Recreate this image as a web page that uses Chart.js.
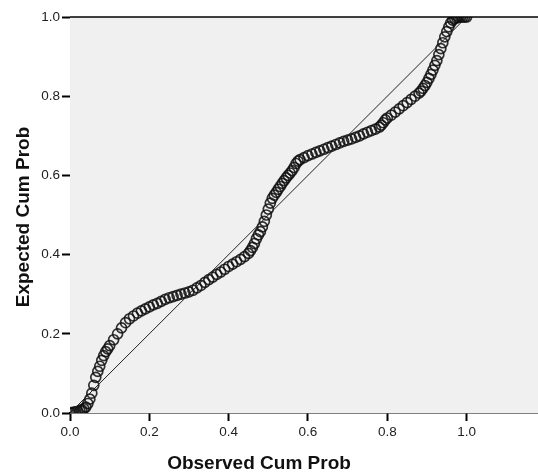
<!DOCTYPE html>
<html>
<head>
<meta charset="utf-8">
<script src="https://cdn.jsdelivr.net/npm/chart.js@4"></script>
<style>
  html, body { margin: 0; padding: 0; background: #fff; }
  #wrap { width: 538px; height: 474px; position: relative; }
</style>
</head>
<body>
<div id="wrap"><canvas id="ppPlot"></canvas></div>
<script>
// observed cumulative probability (x) and expected cumulative probability (y)
const observed = [
  0.000, 0.005, 0.010, 0.015, 0.020, 0.025, 0.030, 0.035, 0.040, 0.045,
  0.050, 0.055, 0.060, 0.065, 0.070, 0.075, 0.080, 0.085, 0.090, 0.095,
  0.100, 0.110, 0.120, 0.130, 0.140, 0.150, 0.160, 0.170, 0.180, 0.190,
  0.200, 0.210, 0.220, 0.230, 0.240, 0.250, 0.260, 0.270, 0.280, 0.290,
  0.300, 0.310, 0.320, 0.330, 0.340, 0.350, 0.360, 0.370, 0.380, 0.390,
  0.400, 0.410, 0.420, 0.430, 0.440, 0.450, 0.455, 0.460, 0.465, 0.470,
  0.475, 0.480, 0.485, 0.490, 0.495, 0.500, 0.505, 0.510, 0.515, 0.520,
  0.525, 0.530, 0.535, 0.540, 0.545, 0.550, 0.555, 0.560, 0.565, 0.570,
  0.575, 0.580, 0.590, 0.600, 0.610, 0.620, 0.630, 0.640, 0.650, 0.660,
  0.670, 0.680, 0.690, 0.700, 0.710, 0.720, 0.730, 0.740, 0.750, 0.760,
  0.770, 0.780, 0.785, 0.790, 0.795, 0.800, 0.810, 0.820, 0.830, 0.840,
  0.850, 0.860, 0.870, 0.880, 0.885, 0.890, 0.895, 0.900, 0.905, 0.910,
  0.915, 0.920, 0.925, 0.930, 0.935, 0.940, 0.945, 0.950, 0.955, 0.960,
  0.965, 0.970, 0.975, 0.980, 0.985, 0.990, 0.995, 1.000
];
const expected = [
  0.000, 0.001, 0.002, 0.003, 0.004, 0.006, 0.008, 0.011, 0.015, 0.024,
  0.035, 0.050, 0.070, 0.090, 0.105, 0.118, 0.133, 0.145, 0.155, 0.162,
  0.170, 0.185, 0.200, 0.215, 0.228, 0.238, 0.245, 0.252, 0.258, 0.263,
  0.268, 0.273, 0.277, 0.282, 0.287, 0.291, 0.294, 0.297, 0.300, 0.303,
  0.306, 0.310, 0.316, 0.322, 0.330, 0.337, 0.343, 0.350, 0.356, 0.363,
  0.370, 0.376, 0.382, 0.388, 0.395, 0.403, 0.410, 0.418, 0.428, 0.440,
  0.450, 0.458, 0.470, 0.484, 0.500, 0.515, 0.530, 0.542, 0.550, 0.557,
  0.565, 0.572, 0.580, 0.587, 0.594, 0.600, 0.606, 0.612, 0.620, 0.630,
  0.636, 0.640, 0.645, 0.650, 0.654, 0.658, 0.662, 0.666, 0.670, 0.674,
  0.678, 0.682, 0.686, 0.689, 0.692, 0.696, 0.700, 0.705, 0.709, 0.713,
  0.717, 0.722, 0.727, 0.733, 0.740, 0.745, 0.752, 0.760, 0.768, 0.776,
  0.784, 0.792, 0.800, 0.808, 0.813, 0.820, 0.827, 0.835, 0.845, 0.855,
  0.866, 0.878, 0.890, 0.905, 0.920, 0.935, 0.950, 0.963, 0.975, 0.985,
  0.992, 0.996, 0.998, 0.999, 1.000, 1.000, 1.000, 1.000
];
const diagonal = [0, 1];
const xTickValues = [0, 0.2, 0.4, 0.6, 0.8, 1.0];
const yTickValues = [0, 0.2, 0.4, 0.6, 0.8, 1.0];
const xTitle = "Observed Cum Prob";
const yTitle = "Expected Cum Prob";

const points = observed.map((x, i) => ({ x: x, y: expected[i] }));
const refLine = diagonal.map((v) => ({ x: v, y: v }));

// gray plot background, top frame line and axis titles
const spssFrame = {
  id: "spssFrame",
  beforeDatasetsDraw(chart) {
    const { ctx, chartArea: a } = chart;
    ctx.save();
    ctx.fillStyle = "#f0f0f0";
    ctx.fillRect(a.left, a.top, a.right - a.left, a.bottom - a.top);
    ctx.restore();
  },
  afterDraw(chart) {
    const { ctx, chartArea: a } = chart;
    ctx.save();
    ctx.strokeStyle = "#000";
    ctx.lineWidth = 1.5;
    ctx.beginPath();
    ctx.moveTo(a.left, a.top);
    ctx.lineTo(a.right, a.top);
    ctx.stroke();

    ctx.fillStyle = "#111";
    ctx.font = "bold 19px 'Liberation Sans', Arial, sans-serif";
    ctx.textAlign = "center";
    ctx.textBaseline = "middle";
    ctx.fillText(xTitle, 259, 464);
    ctx.translate(24, 217);
    ctx.rotate(-Math.PI / 2);
    ctx.fillText(yTitle, 0, 0);
    ctx.restore();
  },
};

const tickFont = { family: "'Liberation Sans', Arial, sans-serif", size: 13.5 };

new Chart(document.getElementById("ppPlot"), {
  type: "scatter",
  data: {
    datasets: [
      {
        data: points,
        pointRadius: 5,
        pointStyle: "circle",
        pointBackgroundColor: "rgba(0,0,0,0)",
        pointBorderColor: "rgba(15,15,15,0.85)",
        pointBorderWidth: 1.7,
        order: 2,
      },
      {
        type: "line",
        data: refLine,
        borderColor: "#222",
        borderWidth: 1,
        pointRadius: 0,
        fill: false,
        order: 1,
      },
    ],
  },
  options: {
    responsive: true,
    maintainAspectRatio: false,
    animation: false,
    layout: { autoPadding: false, padding: { left: 0, top: 17, right: 0, bottom: 0 } },
    plugins: {
      legend: { display: false },
      tooltip: { enabled: false },
    },
    scales: {
      x: {
        type: "linear",
        min: 0,
        max: 1.18,
        afterBuildTicks: (s) => { s.ticks = xTickValues.map((v) => ({ value: v })); },
        afterFit: (s) => { s.height = 61; },
        ticks: {
          font: tickFont,
          color: "#222",
          padding: 3,
          maxRotation: 0,
          callback: (v) => Number(v).toFixed(1),
        },
        grid: {
          drawOnChartArea: false,
          drawTicks: true,
          tickLength: 8,
          tickColor: "#000",
          tickWidth: 2,
        },
        border: { color: "#000", width: 1.5 },
      },
      y: {
        type: "linear",
        min: 0,
        max: 1,
        afterBuildTicks: (s) => { s.ticks = yTickValues.map((v) => ({ value: v })); },
        afterFit: (s) => { s.width = 70; },
        ticks: {
          font: tickFont,
          color: "#222",
          padding: 2,
          callback: (v) => Number(v).toFixed(1),
        },
        grid: {
          drawOnChartArea: false,
          drawTicks: true,
          tickLength: 8,
          tickColor: "#000",
          tickWidth: 2,
        },
        border: { color: "#666", width: 1 },
      },
    },
  },
  plugins: [spssFrame],
});
</script>
</body>
</html>
